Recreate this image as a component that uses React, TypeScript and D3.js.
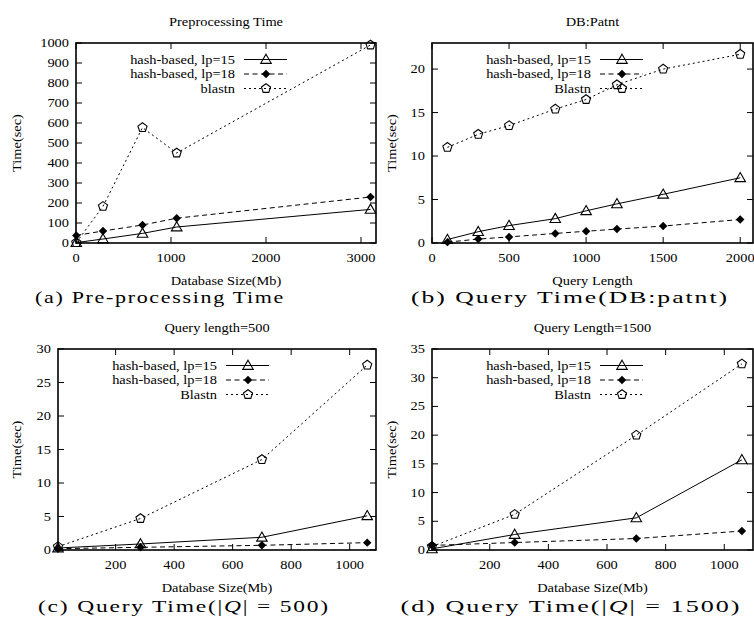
import React from "react";
import * as d3 from "d3";

// (a) preprocessing time vs database size
const dbSizesA = [3, 284, 700, 1060, 3100];
const preLp15 = [2, 20, 48, 80, 168];
const preLp18 = [38, 60, 90, 124, 230];
const preBlastn = [2, 183, 577, 450, 990];
const xTicksA = [0, 1000, 2000, 3000];
const yTicksA = [0, 100, 200, 300, 400, 500, 600, 700, 800, 900, 1000];

// (b) query time vs query length, DB patnt
const queryLens = [100, 300, 500, 800, 1000, 1200, 1500, 2000];
const patLp15 = [0.4, 1.3, 2.0, 2.8, 3.7, 4.5, 5.6, 7.5];
const patLp18 = [0.1, 0.45, 0.7, 1.1, 1.35, 1.6, 1.95, 2.7];
const patBlastn = [11.0, 12.5, 13.5, 15.4, 16.5, 18.2, 20.0, 21.7];
const xTicksB = [0, 500, 1000, 1500, 2000];
const yTicksB = [0, 5, 10, 15, 20];

// (c), (d) query time vs database size
const dbSizes = [3, 285, 700, 1060];
const q500Lp15 = [0.3, 0.9, 1.9, 5.1];
const q500Lp18 = [0.2, 0.4, 0.7, 1.1];
const q500Blastn = [0.5, 4.7, 13.5, 27.6];
const q1500Lp15 = [0.2, 2.7, 5.6, 15.7];
const q1500Lp18 = [0.8, 1.3, 2.0, 3.3];
const q1500Blastn = [0.6, 6.2, 20.0, 32.4];
const xTicksCD = [200, 400, 600, 800, 1000];
const yTicksC = [0, 5, 10, 15, 20, 25, 30];
const yTicksD = [0, 5, 10, 15, 20, 25, 30, 35];

const FONT = "Liberation Serif";
const SX = 1.2; // gnuplot text looks horizontally stretched

const GText = ({ x, y, anchor = "middle", rotate = 0, children }: any) => (
	<text
		transform={`translate(${x},${y}) rotate(${rotate}) scale(${SX},1)`}
		textAnchor={anchor}
		fontFamily={FONT}
		fontSize={12}
		fill="#000"
	>
		{children}
	</text>
);

const triangle = d3.symbol(d3.symbolTriangle, 48)();
const diamond = d3.symbol(d3.symbolSquare, 36)();
const pentagon = d3
	.lineRadial<number>()
	.angle((d) => d)
	.radius(4.8)
	.curve(d3.curveLinearClosed)(d3.range(5).map((i) => (i * 2 * Math.PI) / 5));

const Marker = ({ kind, x, y }: any) => {
	if (kind === "tri")
		return <path d={triangle!} transform={`translate(${x},${y + 0.8})`} fill="none" stroke="#000" strokeWidth={1.1} />;
	if (kind === "dia")
		return <path d={diamond!} transform={`translate(${x},${y}) rotate(45)`} fill="#000" />;
	return <path d={pentagon!} transform={`translate(${x},${y})`} fill="none" stroke="#000" strokeWidth={1.1} />;
};

const styles = [
	{ dash: null, marker: "tri" },
	{ dash: "5,3.5", marker: "dia" },
	{ dash: "2,3", marker: "pent" },
];

function Panel({ box, xDomain, yDomain, xTicks, yTicks, xs, series, names, title, xLabel, yLabelX, caption }: any) {
	const x = d3.scaleLinear().domain(xDomain).range([box.left, box.right]);
	const y = d3.scaleLinear().domain(yDomain).range([box.bottom, box.top]);
	const line = d3
		.line<number>()
		.x((_, i) => x(xs[i]))
		.y((d) => y(d));
	const tk = 6;
	const cx = (box.left + box.right) / 2;
	const cy = (box.top + box.bottom) / 2;
	const legX = box.left + 159;
	return (
		<g>
			{/* ticks */}
			{xTicks.map((t: number) => (
				<g key={"x" + t}>
					<line x1={x(t)} x2={x(t)} y1={box.bottom} y2={box.bottom - tk} stroke="#000" />
					<line x1={x(t)} x2={x(t)} y1={box.top} y2={box.top + tk} stroke="#000" />
					<GText x={x(t)} y={box.bottom + 19}>{t}</GText>
				</g>
			))}
			{yTicks.map((t: number) => (
				<g key={"y" + t}>
					<line x1={box.left} x2={box.left + tk} y1={y(t)} y2={y(t)} stroke="#000" />
					<line x1={box.right} x2={box.right - tk} y1={y(t)} y2={y(t)} stroke="#000" />
					<GText x={box.left - 7} y={y(t) + 4} anchor="end">{t}</GText>
				</g>
			))}
			{/* series */}
			{series.map((s: number[], k: number) => (
				<g key={"s" + k}>
					<path d={line(s)!} fill="none" stroke="#000" strokeWidth={1} strokeDasharray={styles[k].dash ?? undefined} />
					{s.map((v, i) => (
						<Marker key={i} kind={styles[k].marker} x={x(xs[i])} y={y(v)} />
					))}
				</g>
			))}
			{/* legend */}
			{names.map((n: string, k: number) => {
				const ly = box.top + 16.5 + k * 14.5;
				return (
					<g key={"l" + k}>
						<GText x={legX} y={ly + 4} anchor="end">{n}</GText>
						<line x1={legX + 9} x2={legX + 52} y1={ly} y2={ly} stroke="#000" strokeDasharray={styles[k].dash ?? undefined} />
						<Marker kind={styles[k].marker} x={legX + 31} y={ly} />
					</g>
				);
			})}
			<rect x={box.left} y={box.top} width={box.right - box.left} height={box.bottom - box.top} fill="none" stroke="#000" strokeWidth={1.6} />
			<GText x={cx} y={box.top - 17}>{title}</GText>
			<GText x={cx} y={box.bottom + 42}>{xLabel}</GText>
			<GText x={yLabelX + 4} y={cy} rotate={-90}>Time(sec)</GText>
			<text
				x={caption.x}
				y={caption.y}
				textAnchor="middle"
				fontFamily="Liberation Serif"
				fontSize={17}
				letterSpacing={1.3}
				textLength={caption.w}
				lengthAdjust="spacingAndGlyphs"
				fill="#000"
			>
				{caption.parts.map((p: any, i: number) => (
					<tspan key={i} fontStyle={p.it ? "italic" : "normal"}>{p.t}</tspan>
				))}
			</text>
		</g>
	);
}

export default function App() {
	const namesA = ["hash-based, lp=15", "hash-based, lp=18", "blastn"];
	const namesB = ["hash-based, lp=15", "hash-based, lp=18", "Blastn"];
	return (
		<svg width={754} height={617} style={{ position: "absolute", left: 0, top: 0, background: "#fff" }}>
			<Panel
				box={{ left: 76, right: 376, top: 43, bottom: 243 }}
				xDomain={[0, 3158]}
				yDomain={[0, 1000]}
				xTicks={xTicksA}
				yTicks={yTicksA}
				xs={dbSizesA}
				series={[preLp15, preLp18, preBlastn]}
				names={namesA}
				title="Preprocessing Time"
				xLabel="Database Size(Mb)"
				yLabelX={17}
				caption={{ x: 160, y: 303, w: 250, parts: [{ t: "(a) Pre-processing Time" }] }}
			/>
			<Panel
				box={{ left: 432, right: 753, top: 43, bottom: 243 }}
				xDomain={[0, 2083]}
				yDomain={[0, 23]}
				xTicks={xTicksB}
				yTicks={yTicksB}
				xs={queryLens}
				series={[patLp15, patLp18, patBlastn]}
				names={namesB}
				title="DB:Patnt"
				xLabel="Query Length"
				yLabelX={392}
				caption={{ x: 570, y: 303, w: 318, parts: [{ t: "(b) Query Time(DB:patnt)" }] }}
			/>
			<Panel
				box={{ left: 58, right: 376, top: 349, bottom: 550 }}
				xDomain={[3, 1090]}
				yDomain={[0, 30]}
				xTicks={xTicksCD}
				yTicks={yTicksC}
				xs={dbSizes}
				series={[q500Lp15, q500Lp18, q500Blastn]}
				names={namesB}
				title="Query length=500"
				xLabel="Database Size(Mb)"
				yLabelX={17}
				caption={{ x: 184, y: 612, w: 292, parts: [{ t: "(c) Query Time(|" }, { t: "Q", it: true }, { t: "| = 500)" }] }}
			/>
			<Panel
				box={{ left: 432, right: 753, top: 349, bottom: 550 }}
				xDomain={[3, 1098]}
				yDomain={[0, 35]}
				xTicks={xTicksCD}
				yTicks={yTicksD}
				xs={dbSizes}
				series={[q1500Lp15, q1500Lp18, q1500Blastn]}
				names={namesB}
				title="Query Length=1500"
				xLabel="Database Size(Mb)"
				yLabelX={392}
				caption={{ x: 571, y: 612, w: 341, parts: [{ t: "(d) Query Time(|" }, { t: "Q", it: true }, { t: "| = 1500)" }] }}
			/>
		</svg>
	);
}
